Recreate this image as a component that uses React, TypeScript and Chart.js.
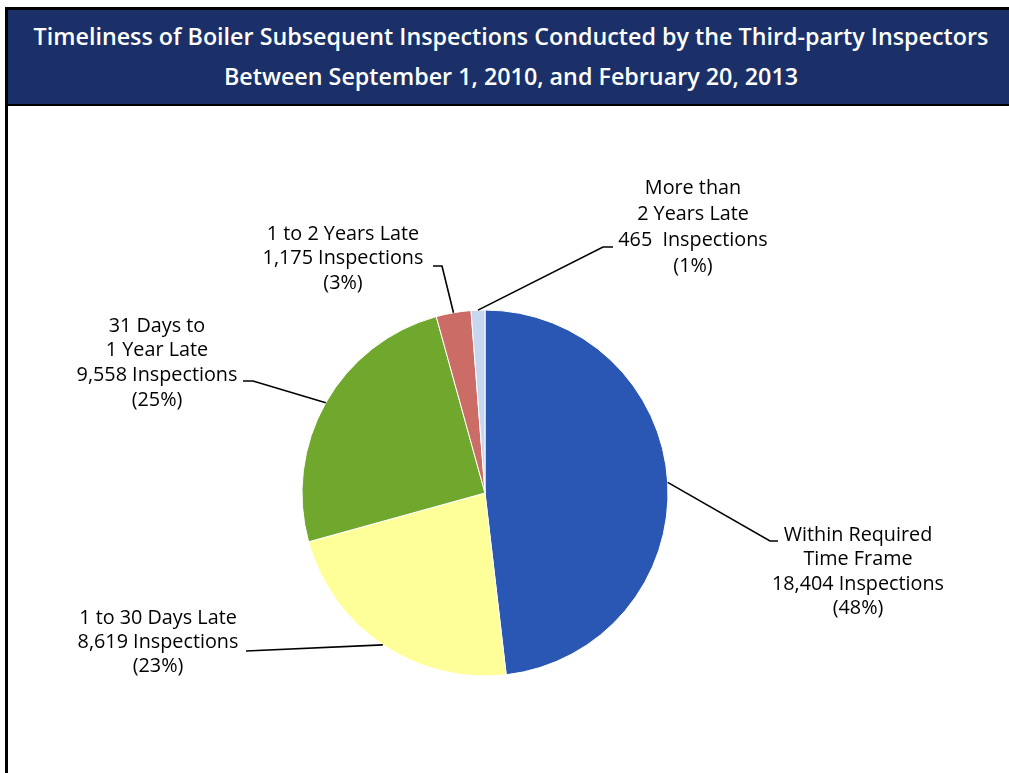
import React, { useEffect, useRef } from "react";
import { Chart, registerables } from "chart.js";

Chart.register(...registerables);

const titleLines = [
  "Timeliness of Boiler Subsequent Inspections Conducted by the Third-party Inspectors",
  "Between September 1, 2010, and February 20, 2013",
];

const categories = [
  "Within Required Time Frame",
  "1 to 30 Days Late",
  "31 Days to 1 Year Late",
  "1 to 2 Years Late",
  "More than 2 Years Late",
];
const inspections = [18404, 8619, 9558, 1175, 465];
const labelLines = [
  ["Within Required", "Time Frame", "18,404 Inspections", "(48%)"],
  ["1 to 30 Days Late", "8,619 Inspections", "(23%)"],
  ["31 Days to", "1 Year Late", "9,558 Inspections", "(25%)"],
  ["1 to 2 Years Late", "1,175 Inspections", "(3%)"],
  ["More than", "2 Years Late", "465  Inspections", "(1%)"],
];
const sliceColors = ["#2a56b4", "#ffff99", "#70a72d", "#cc6c66", "#c8d7f0"];

// layout for callouts: elbow point, end of short horizontal, text center x, first line y
const callouts = [
  { elbow: [770, 541], end: [778, 541], tx: 858, ty: 535, lh: 24.5 },
  { elbow: [246, 651], end: [246, 651], tx: 158, ty: 618, lh: 24 },
  { elbow: [253, 381], end: [243, 381], tx: 157, ty: 326, lh: 24.7 },
  { elbow: [442, 266], end: [433, 266], tx: 343, ty: 234, lh: 24.5 },
  { elbow: [603, 247], end: [613, 247], tx: 693, ty: 188, lh: 26 },
];

const calloutPlugin = {
  id: "callouts",
  afterDatasetsDraw(chart: any) {
    const ctx = chart.ctx;
    const meta = chart.getDatasetMeta(0);
    ctx.save();
    meta.data.forEach((arc: any, i: number) => {
      const { x, y, startAngle, endAngle, outerRadius } = arc.getProps(
        ["x", "y", "startAngle", "endAngle", "outerRadius"],
        true
      );
      const mid = (startAngle + endAngle) / 2;
      const ax = x + Math.cos(mid) * outerRadius;
      const ay = y + Math.sin(mid) * outerRadius;
      const c = callouts[i];
      ctx.strokeStyle = "#000";
      ctx.lineWidth = 1.6;
      ctx.beginPath();
      ctx.moveTo(ax, ay);
      ctx.lineTo(c.elbow[0], c.elbow[1]);
      ctx.lineTo(c.end[0], c.end[1]);
      ctx.stroke();
      ctx.fillStyle = "#000";
      ctx.font = "19.8px 'Open Sans'";
      ctx.textAlign = "center";
      ctx.textBaseline = "middle";
      labelLines[i].forEach((t, k) => {
        ctx.fillText(t, c.tx, c.ty + k * c.lh);
      });
    });
    ctx.restore();
  },
};

export default function App() {
  const ref = useRef<HTMLCanvasElement>(null);
  useEffect(() => {
    if (!ref.current) return;
    const chart = new Chart(ref.current, {
      type: "pie",
      data: {
        labels: categories,
        datasets: [
          {
            data: inspections,
            backgroundColor: sliceColors,
            borderColor: "#ffffff",
            borderWidth: 1,
            radius: 183,
          },
        ],
      },
      options: {
        responsive: false,
        animation: false,
        layout: { padding: { top: 213, right: 39, left: 0, bottom: 0 } },
        plugins: {
          legend: { display: false },
          tooltip: { enabled: false },
          title: { display: false },
        },
      },
      plugins: [calloutPlugin],
    });
    return () => chart.destroy();
  }, []);

  return (
    <div style={{ position: "absolute", left: 0, top: 0, width: 1009, height: 773, overflow: "hidden", background: "#fff" }}>
      <div
        style={{
          position: "absolute",
          left: 5,
          top: 7,
          width: 1020,
          height: 800,
          borderLeft: "3px solid #000",
          borderTop: "3px solid #000",
          boxSizing: "border-box",
        }}
      />
      <div
        style={{
          position: "absolute",
          left: 8,
          top: 10,
          width: 1010,
          height: 94,
          background: "#1b3068",
          borderBottom: "2px solid #000",
          color: "#fff",
          fontFamily: "'Open Sans', sans-serif",
          fontWeight: 600,
          fontSize: 23.3,
          textAlign: "center",
        }}
      >
        <div style={{ position: "absolute", left: 0, width: 1006, top: 11, lineHeight: "30px", whiteSpace: "nowrap" }}>{titleLines[0]}</div>
        <div style={{ position: "absolute", left: 0, width: 1006, top: 51, lineHeight: "30px", whiteSpace: "nowrap" }}>{titleLines[1]}</div>
      </div>
      <canvas ref={ref} width={1009} height={773} style={{ position: "absolute", left: 0, top: 0, width: 1009, height: 773 }} />
    </div>
  );
}
